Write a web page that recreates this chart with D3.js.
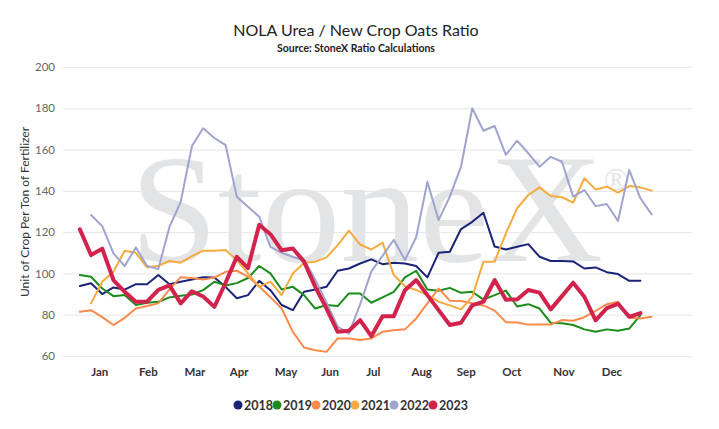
<!DOCTYPE html>
<html>
<head>
<meta charset="utf-8">
<script src="https://cdn.jsdelivr.net/npm/d3@7"></script>
<style>
  body { margin: 0; background: #fff; }
  svg { display: block; }
</style>
</head>
<body>
<script>
// weekly readings, index 0 = first week of January
const years = ["2018", "2019", "2020", "2021", "2022", "2023"]
const v2018 = [93.9, 95.2, 90, 93.2, 92.2, 94.8, 94.8, 99.2, 94.8, 96, 97.1, 98.1, 98, 93.5, 88, 89.5, 96.4, 91.9, 84.7, 82.2, 91.1, 92.2, 93.5, 101.3, 102.4, 104.8, 106.8, 104.5, 105.2, 104.8, 103.6, 98.1, 110, 110.5, 121.5, 125, 129.4, 113, 111.6, 112.9, 114.2, 108.1, 106, 106, 105.8, 102.4, 102.9, 100.6, 99.7, 96.4, 96.4, null]
const v2019 = [99.2, 98.4, 92.7, 89, 89.5, 84.7, 85.8, 86.3, 88.4, 89.2, 89.8, 91.9, 96, 94.2, 95.3, 97.8, 103.6, 100, 92.2, 93.5, 89.5, 83, 84.7, 84.2, 90.3, 90.3, 85.8, 88.4, 91.1, 98.1, 101.3, 92.2, 91.6, 93, 90.6, 91.1, 87.3, 89.5, 91.7, 84, 85.1, 83, 76, 75.9, 75, 72.9, 71.7, 72.9, 72.2, 73.3, 79.8, null]
const v2020 = [81.4, 82.2, 78.8, 75, 78.5, 83, 84.2, 85.5, 92.3, 98.2, 97.8, 97, 98, 100.8, 101.3, 98.5, 93.7, 88.5, 83, 71.7, 64.1, 62.8, 62, 68.5, 68.5, 67.7, 68.5, 71.7, 72.5, 72.9, 78.2, 85.5, 92.7, 86.8, 86.6, 85.6, 84.5, 82, 76.4, 76.2, 75.2, 75.2, 75.2, 77.4, 77.1, 78.8, 81.8, 85.1, 86.3, 78.5, 78.2, 79]
const v2021 = [null, 85.5, 96, 100.8, 111, 110, 102.9, 103.7, 106, 105.2, 108.4, 111, 111, 111.3, 106.5, 100, 93.5, 96, 89.5, 100, 105.2, 105.7, 107.8, 113.7, 120.7, 114, 111.6, 114.9, 99.2, 93.8, 92, 89.5, 86.3, 84.5, 82.6, 88.7, 105.7, 105.7, 119.4, 131.5, 138, 141.7, 137.5, 136.9, 134.3, 146.1, 140.7, 142, 139.1, 142.3, 141.7, 140.1]
const v2022 = [null, 128.3, 122.9, 109.7, 103.6, 112.6, 103.6, 102.1, 122.6, 134.7, 161.7, 170.3, 165.6, 162.2, 137.2, 132.3, 127.5, 112.9, 110, 108, 106.5, 97, 86, 74.2, 70.8, 85, 101, 108.5, 116.3, 106.5, 117.5, 144.4, 125.8, 137.2, 151.7, 180, 169.1, 171.4, 157.4, 164.3, 158.2, 151.7, 156.5, 154.1, 137.2, 140.4, 132.6, 133.6, 125.4, 150.1, 136.4, 128.6]
const v2023 = [121.4, 108.9, 112, 96.8, 91.1, 86.3, 86.3, 92, 94.2, 85.5, 91.4, 88.8, 83.8, 95.5, 108, 102.6, 123.6, 119, 111.2, 112.1, 105.7, 93.5, 83, 71.7, 72.2, 77.4, 69.6, 79.3, 79.3, 91.9, 96.8, 89.5, 82.2, 75, 76.1, 84.5, 86.3, 96.8, 87.3, 87.4, 92, 90.7, 82.6, 89, 95.5, 88.7, 77.3, 83.2, 85.3, 79, 80.8, null]
const seriesValues = [v2018, v2019, v2020, v2021, v2022, v2023]

const months = ["Jan", "Feb", "Mar", "Apr", "May", "Jun", "Jul", "Aug", "Sep", "Oct", "Nov", "Dec"]
const monthWeeks = [1.74, 6.07, 10.22, 14.17, 18.35, 22.28, 26.13, 30.45, 34.42, 38.48, 43.13, 47.41]
const yTicks = [60, 80, 100, 120, 140, 160, 180, 200]

const [width, height] = [719, 429]
const colors = {
    "2018": "#1b2378",
    "2019": "#1b8c1b",
    "2020": "#fc8a4c",
    "2021": "#f6ab40",
    "2022": "#a0a4cf",
    "2023": "#d2234c",
    "grid": "#e6e6e6",
    "text": "#333333",
    "tick": "#666666",
    "mark": "#e3e4e6"
}
const font = "Lato, 'Open Sans', sans-serif"

const svg = d3.select("body")
    .append("svg")
        .attr("width", width)
        .attr("height", height)

const x = d3.scaleLinear().domain([-1.5, 54.6]).range([63, 692])
const y = d3.scaleLinear().domain([60, 200]).range([356, 67])

// watermark behind the plot
const mark = svg.append("g").attr("id", "watermark")
mark.append("text")
    .text("StoneX")
    .attr("x", 130)
    .attr("y", 261)
    .attr("textLength", 473)
    .attr("lengthAdjust", "spacingAndGlyphs")
    .attr("font-family", "'Liberation Serif', 'DejaVu Serif', serif")
    .attr("font-size", 155)
    .attr("fill", colors.mark)
mark.append("text")
    .text("®")
    .attr("x", 604)
    .attr("y", 190)
    .attr("font-family", "'Liberation Serif', 'DejaVu Serif', serif")
    .attr("font-size", 32)
    .attr("fill", colors.mark)

// grid + y labels
const yAxis = d3.axisLeft(y)
    .tickValues(yTicks)
    .tickSize(-(x.range()[1] - x.range()[0]))
    .tickPadding(8)
svg.append("g")
    .attr("transform", `translate(${x.range()[0]},0)`)
    .call(yAxis)
    .call(g => g.select(".domain").remove())
    .call(g => g.selectAll(".tick line").attr("stroke", colors.grid))
    .call(g => g.selectAll(".tick text")
        .attr("fill", colors.tick)
        .attr("font-family", font)
        .attr("font-size", 11.5))

// month labels
const xAxis = d3.axisBottom(x)
    .tickValues(monthWeeks)
    .tickFormat((d, i) => months[i])
    .tickSize(0)
    .tickPadding(12)
svg.append("g")
    .attr("transform", `translate(0,${y.range()[0]})`)
    .call(xAxis)
    .call(g => g.select(".domain").remove())
    .call(g => g.selectAll(".tick text")
        .attr("fill", colors.text)
        .attr("font-family", font)
        .attr("font-weight", "bold")
        .attr("font-size", 11.5))

// series
const line = d3.line()
    .defined(d => d != null)
    .x((d, i) => x(i))
    .y(d => y(d))

svg.append("g").attr("id", "series")
.selectAll("path")
.data(seriesValues)
.enter()
.append("path")
    .attr("d", d => line(d))
    .attr("fill", "none")
    .attr("stroke", (d, i) => colors[years[i]])
    .attr("stroke-width", (d, i) => years[i] === "2023" ? 4 : 2)
    .attr("stroke-linejoin", "round")
    .attr("stroke-linecap", "round")

// titles
svg.append("text")
    .text("NOLA Urea / New Crop Oats Ratio")
    .attr("x", 356)
    .attr("y", 36)
    .attr("text-anchor", "middle")
    .attr("font-family", font)
    .attr("font-size", 16)
    .attr("fill", "#222")
svg.append("text")
    .text("Source: StoneX Ratio Calculations")
    .attr("x", 356)
    .attr("y", 52)
    .attr("text-anchor", "middle")
    .attr("font-family", font)
    .attr("font-weight", "bold")
    .attr("font-size", 10.5)
    .attr("fill", "#222")
svg.append("text")
    .text("Unit of Crop Per Ton of Fertilizer")
    .attr("transform", "translate(29,212) rotate(-90)")
    .attr("text-anchor", "middle")
    .attr("font-family", font)
    .attr("font-size", 12)
    .attr("fill", colors.text)

// legend
const legend = svg.append("g").attr("id", "legend")
.selectAll("g")
.data(years)
.enter()
.append("g")
    .attr("transform", (d, i) => `translate(${238 + i * 39},405)`)
legend.append("circle")
    .attr("r", 4.5)
    .attr("fill", d => colors[d])
legend.append("text")
    .text(d => d)
    .attr("x", 6)
    .attr("y", 4.5)
    .attr("font-family", font)
    .attr("font-weight", "bold")
    .attr("font-size", 12.5)
    .attr("fill", colors.text)
</script>
</body>
</html>
